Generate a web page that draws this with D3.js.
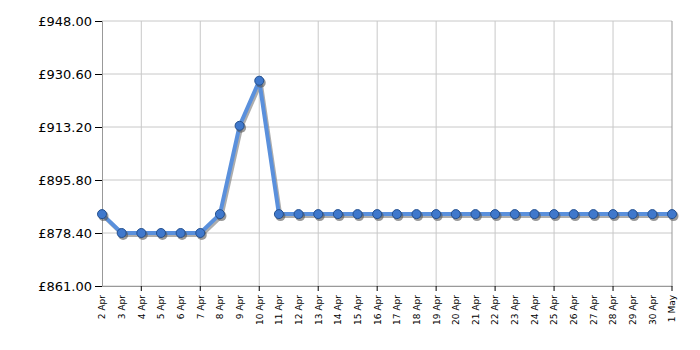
<!DOCTYPE html>
<html>
<head>
<meta charset="utf-8">
<script src="https://cdn.jsdelivr.net/npm/d3@7"></script>
<style>
  body { margin: 0; background: #fff; }
  text { font-family: Verdana, "DejaVu Sans", sans-serif; fill: #000; }
</style>
</head>
<body>
<svg id="chart"></svg>
<script>
const width = 570;
const height = 265;
const margin = { top: 21, left: 102, bottom: 64, right: 28 };

const days = ["2 Apr", "3 Apr", "4 Apr", "5 Apr", "6 Apr", "7 Apr", "8 Apr", "9 Apr", "10 Apr",
    "11 Apr", "12 Apr", "13 Apr", "14 Apr", "15 Apr", "16 Apr", "17 Apr", "18 Apr", "19 Apr",
    "20 Apr", "21 Apr", "22 Apr", "23 Apr", "24 Apr", "25 Apr", "26 Apr", "27 Apr", "28 Apr",
    "29 Apr", "30 Apr", "1 May"];
const prices = [884.6, 878.4, 878.4, 878.4, 878.4, 878.4, 884.6, 913.6, 928.4,
    884.6, 884.6, 884.6, 884.6, 884.6, 884.6, 884.6, 884.6, 884.6,
    884.6, 884.6, 884.6, 884.6, 884.6, 884.6, 884.6, 884.6, 884.6,
    884.6, 884.6, 884.6];
const yTicks = [861.0, 878.4, 895.8, 913.2, 930.6, 948.0];
const gridDays = ["4 Apr", "7 Apr", "10 Apr", "13 Apr", "16 Apr", "19 Apr", "22 Apr", "25 Apr", "28 Apr", "1 May"];

let svg = d3.select("#chart")
    .attr("width", width + margin.left + margin.right)
    .attr("height", height + margin.top + margin.bottom);

let g = svg.append("g")
    .attr("transform", `translate(${margin.left}, ${margin.top})`);

let x = d3.scalePoint()
    .domain(days)
    .range([0, width]);

let y = d3.scaleLinear()
    .domain([861, 948])
    .range([height, 0]);

// grid
g.append("g")
    .selectAll("line")
    .data(yTicks)
    .enter().append("line")
    .attr("x1", 0).attr("x2", width)
    .attr("y1", d => y(d)).attr("y2", d => y(d))
    .attr("stroke", "#c8c8c8");

g.append("g")
    .selectAll("line")
    .data(gridDays)
    .enter().append("line")
    .attr("x1", d => x(d)).attr("x2", d => x(d))
    .attr("y1", 0).attr("y2", height)
    .attr("stroke", d => d === "1 May" ? "#999" : "#c8c8c8");

// y axis
let yAxis = g.append("g")
    .call(d3.axisLeft(y).tickValues(yTicks).tickSize(7).tickFormat(d => "£" + d.toFixed(2)));
yAxis.select(".domain").attr("stroke", "#999");
yAxis.selectAll(".tick line").attr("stroke", "#000");
yAxis.selectAll("text").style("font-size", "13px").attr("x", -10);

// x axis
let xAxis = g.append("g")
    .attr("transform", `translate(0, ${height})`)
    .call(d3.axisBottom(x).tickSize(0));
xAxis.select(".domain").attr("stroke", "#999");
xAxis.selectAll("text")
    .style("font-size", "9px")
    .attr("transform", "rotate(-90)")
    .attr("text-anchor", "end")
    .attr("x", -9)
    .attr("y", 0)
    .attr("dy", "0.32em");

g.append("g")
    .selectAll("line")
    .data(gridDays)
    .enter().append("line")
    .attr("x1", d => x(d)).attr("x2", d => x(d))
    .attr("y1", height).attr("y2", height + 5)
    .attr("stroke", "#000");

let line = d3.line()
    .x((d, i) => x(days[i]))
    .y(d => y(d));

// shadow
g.append("path")
    .datum(prices)
    .attr("transform", "translate(1.5, 2)")
    .attr("fill", "none")
    .attr("stroke", "#777")
    .attr("stroke-opacity", 0.6)
    .attr("stroke-width", 4)
    .attr("d", line);

g.append("path")
    .datum(prices)
    .attr("fill", "none")
    .attr("stroke", "#5a90dc")
    .attr("stroke-width", 4)
    .attr("stroke-linejoin", "round")
    .attr("d", line);

g.append("g")
    .selectAll("circle")
    .data(prices)
    .enter().append("circle")
    .attr("cx", (d, i) => x(days[i]) + 1.5)
    .attr("cy", d => y(d) + 2)
    .attr("r", 5)
    .attr("fill", "#555")
    .attr("fill-opacity", 0.6);

g.append("g")
    .selectAll("circle")
    .data(prices)
    .enter().append("circle")
    .attr("cx", (d, i) => x(days[i]))
    .attr("cy", d => y(d))
    .attr("r", 4.5)
    .attr("fill", "#3f78cc")
    .attr("stroke", "#24508f")
    .attr("stroke-width", 1);
</script>
</body>
</html>
